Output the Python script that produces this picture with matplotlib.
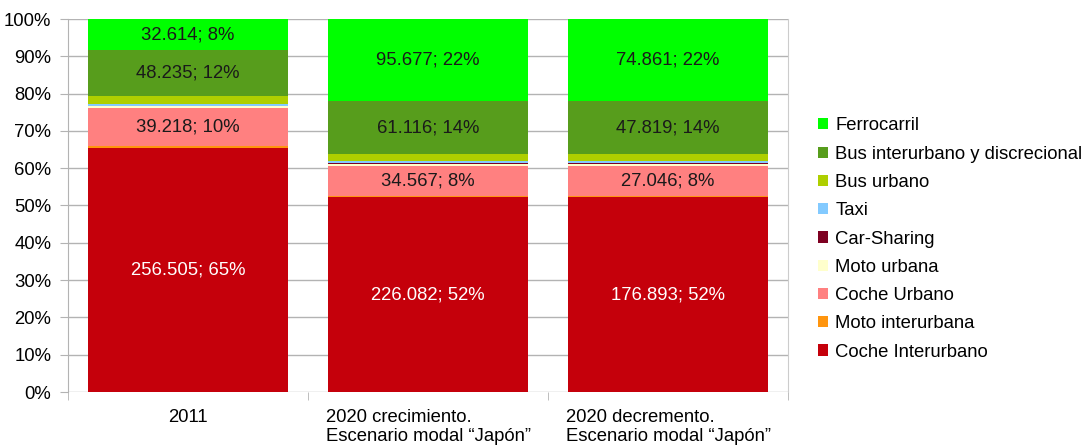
import numpy as np
import matplotlib.pyplot as plt

plt.rcParams['font.family'] = ['Liberation Sans', 'DejaVu Sans']

categories = ['2011',
              '2020 crecimiento.\nEscenario modal \u201cJap\u00f3n\u201d',
              '2020 decremento.\nEscenario modal \u201cJap\u00f3n\u201d']

# stacked bottom -> top
modes = ['Coche Interurbano', 'Moto interurbana', 'Coche Urbano', 'Moto urbana',
         'Car-Sharing', 'Taxi', 'Bus urbano', 'Bus interurbano y discrecional',
         'Ferrocarril']
colors = ['#c5000b', '#ff950e', '#ff8080', '#ffffcc',
          '#7e0021', '#83caff', '#aecf00', '#579d1c', '#00ff00']

coche_inter = [256.505, 226.082, 176.893]
moto_inter = [2.5, 2.2, 1.7]
coche_urb = [39.218, 34.567, 27.046]
moto_urb = [2.5, 2.0, 1.6]
car_sharing = [0.0, 1.2, 0.9]
taxi = [2.0, 2.0, 1.6]
bus_urb = [8.5, 8.7, 6.8]
bus_inter = [48.235, 61.116, 47.819]
ferrocarril = [32.614, 95.677, 74.861]

data = np.array([coche_inter, moto_inter, coche_urb, moto_urb, car_sharing,
                 taxi, bus_urb, bus_inter, ferrocarril])
pct = data / data.sum(axis=0) * 100

fs = 13.3
fig = plt.figure(figsize=(10.87, 4.48), dpi=100)
ax = fig.add_axes([68 / 1087, 56 / 448, 720 / 1087, 373 / 448])

x = np.arange(len(categories))
bottom = np.zeros(len(categories))
for i in range(len(modes)):
    ax.bar(x, pct[i], bottom=bottom, width=200 / 240, color=colors[i],
           label=modes[i], zorder=2)
    for j in range(len(categories)):
        if pct[i, j] > 5:
            txt = f'{data[i, j]:.3f}; {pct[i, j]:.0f}%'
            ax.text(x[j], bottom[j] + pct[i, j] / 2, txt, ha='center', va='center',
                    fontsize=fs, color='white' if i == 0 else '#1a1a1a', zorder=3)
    bottom += pct[i]

ax.set_xlim(-0.5, 2.5)
ax.set_ylim(0, 100)
ax.set_yticks(np.arange(0, 101, 10))
ax.set_yticklabels([f'{v}%' for v in range(0, 101, 10)], fontsize=fs)
ax.set_xticks(x)
ax.set_xticklabels(categories, fontsize=fs, multialignment='left')
ax.set_xticks([-0.5, 0.5, 1.5, 2.5], minor=True)
ax.tick_params(axis='x', which='major', length=0, pad=12)
ax.tick_params(axis='x', which='minor', length=6, color='#b3b3b3')
ax.tick_params(axis='y', length=6, color='#b3b3b3', pad=6)
ax.yaxis.grid(True, color='#b3b3b3', linewidth=1, zorder=0)
for s in ['top', 'bottom']:
    ax.spines[s].set_visible(False)
ax.spines['left'].set_color('#b3b3b3')
ax.spines['right'].set_color('#cccccc')

handles, labels = ax.get_legend_handles_labels()
fig.legend(handles[::-1], labels[::-1], loc='center left',
           bbox_to_anchor=(818 / 1087, 1 - 239 / 448), frameon=False, fontsize=fs,
           handlelength=0.55, handleheight=0.55, handletextpad=0.38,
           labelspacing=0.61, borderpad=0, borderaxespad=0)

fig.savefig('out.png', dpi=100)
